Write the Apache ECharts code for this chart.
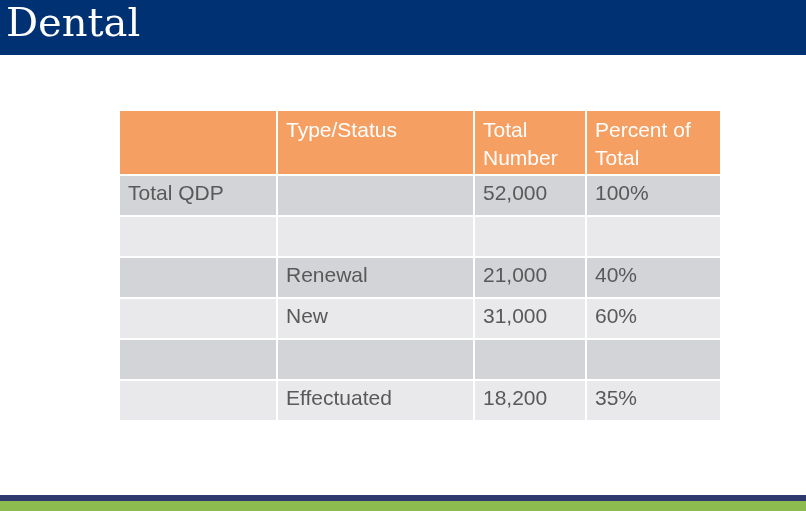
<!DOCTYPE html>
<html>
<head>
<meta charset="utf-8">
<script src="https://cdn.jsdelivr.net/npm/echarts@6/dist/echarts.min.js"></script>
<style>body{margin:0}</style>
</head>
<body>
<div id="main" style="width:806px;height:511px;"></div>
<script>
var headers = ['', 'Type/Status', 'Total\nNumber', 'Percent of\nTotal'];
var col0 = ['Total QDP', '', '', '', '', ''];
var col1 = ['', '', 'Renewal', 'New', '', 'Effectuated'];
var col2 = ['52,000', '', '21,000', '31,000', '', '18,200'];
var col3 = ['100%', '', '40%', '60%', '', '35%'];

var chart = echarts.init(document.getElementById('main'));
var colX = [120, 278, 475, 587, 722];
var headTop = 111, headH = 63, rowH = 41, gap = 2;
var g = [];
g.push({type: 'rect', shape: {x: 0, y: 0, width: 806, height: 55}, style: {fill: '#003173'}});
g.push({type: 'text', left: 6, top: 6, style: {text: 'Dental', fill: '#fff', font: '40px "DejaVu Serif", serif'}});
g.push({type: 'rect', shape: {x: 0, y: 495, width: 806, height: 6}, style: {fill: '#2e3a6e'}});
g.push({type: 'rect', shape: {x: 0, y: 501, width: 806, height: 10}, style: {fill: '#8dbb4f'}});
var cols = [col0, col1, col2, col3];
for (var c = 0; c < 4; c++) {
  var x = colX[c], w = colX[c + 1] - colX[c] - gap;
  g.push({type: 'rect', shape: {x: x, y: headTop, width: w, height: headH}, style: {fill: '#f59f62'}});
  g.push({type: 'text', x: x + 8, y: headTop + 6, style: {text: headers[c], fill: '#fff', font: '21px "Liberation Sans", Arial', lineHeight: 28}});
  for (var r = 0; r < 6; r++) {
    var y = headTop + headH + gap + r * rowH;
    g.push({type: 'rect', shape: {x: x, y: y, width: w, height: rowH - gap}, style: {fill: r % 2 === 0 ? '#d3d4d8' : '#e9e9eb'}});
    g.push({type: 'text', x: x + 8, y: y + 8, style: {text: cols[c][r], fill: '#595959', font: '21px "Liberation Sans", Arial'}});
  }
}
chart.setOption({backgroundColor: '#fff', graphic: g});
</script>
</body>
</html>
